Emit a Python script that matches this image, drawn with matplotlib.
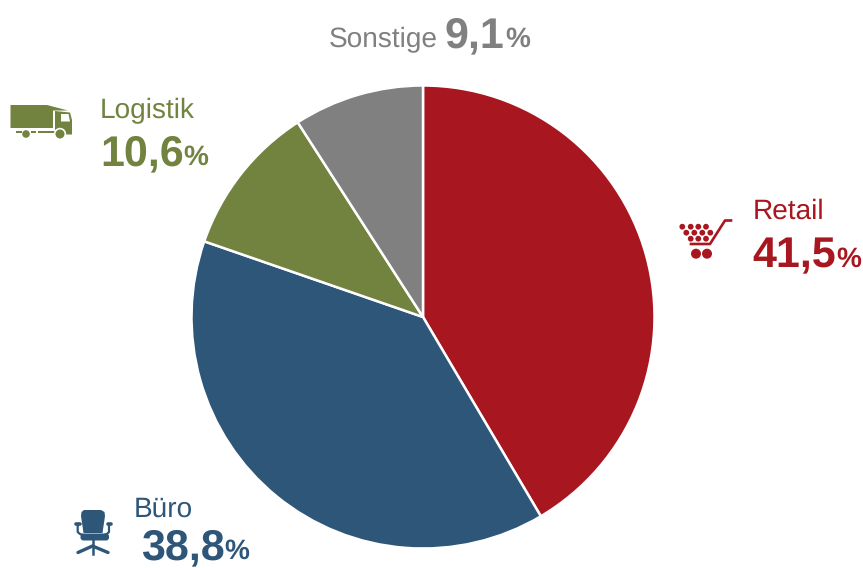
"""Pie chart of space by usage type, with icons next to the labels."""

import matplotlib.pyplot as plt
from matplotlib.patches import Circle, FancyBboxPatch, Polygon, Rectangle

WIDTH = 863
HEIGHT = 568

categories = ["Retail", "Büro", "Logistik", "Sonstige"]
shares = [41.5, 38.8, 10.6, 9.1]
colors = ["#A8171F", "#2E5678", "#728340", "#808080"]

plt.rcParams["font.family"] = ["Liberation Sans", "DejaVu Sans"]
plt.rcParams["text.hinting"] = "no_hinting"
plt.rcParams["text.hinting_factor"] = 1


def _label(ax, x_name, y_name, x_val, y_val, x_pct, name, share, color):
    ax.text(x_name, y_name, name, color=color, fontsize=20, va="baseline")
    value = f"{share:.1f}".replace(".", ",")
    ax.text(x_val, y_val, value, color=color, fontsize=31, weight="bold", va="baseline")
    ax.text(x_pct, y_val, "%", color=color, fontsize=20, weight="bold", va="baseline")


def _truck(ax, color):
    ax.add_patch(Polygon([(10.5, 105), (47, 105), (68, 110.5), (53, 110.5), (53, 128), (10.5, 128)], fc=color))
    ax.add_patch(Polygon([(55, 111), (70, 112.5), (72, 120), (72, 134.5), (55, 134.5)], fc=color))
    ax.add_patch(Polygon([(61, 114), (68.5, 114), (70, 121.5), (61, 121.5)], fc="white"))
    for x0, x1 in [(15.5, 21.5), (31, 35.5), (37.5, 55)]:
        ax.add_patch(Rectangle((x0, 130.5), x1 - x0, 2.5, fc=color))
    ax.add_patch(Circle((26, 134), 3.8, fc=color))
    ax.add_patch(Circle((60, 134), 6.2, fc="white"))
    ax.add_patch(Circle((60, 134), 4.5, fc=color))


def _cart(ax, color):
    rows = [
        (226.7, [682.3, 690.7, 698.3, 706]),
        (232.7, [686.3, 694.3, 702.3, 710.3]),
        (238.7, [690.7, 698.3, 706]),
    ]
    for y, xs in rows:
        for x in xs:
            ax.add_patch(Circle((x, y), 2.9, fc=color))
    ax.plot([731, 725, 710, 691], [220.5, 220.5, 244, 244], color=color, lw=1.9)
    ax.add_patch(Circle((696, 253.7), 5, fc=color))
    ax.add_patch(Circle((707, 253.7), 5, fc=color))


def _chair(ax, color):
    ax.add_patch(
        Polygon(
            [(84, 510), (101, 510), (104.5, 512), (105, 516), (102.5, 533),
             (83.5, 533), (81, 516), (81.5, 512)],
            fc=color,
        )
    )
    ax.add_patch(
        FancyBboxPatch((82, 535), 25.5, 4, boxstyle="round,pad=1.5,rounding_size=3", fc=color, ec="none")
    )
    style = dict(color=color, lw=1.6, solid_capstyle="round")
    ax.plot([77.7, 77.7, 80, 83], [524, 532, 534, 535], **style)
    ax.plot([109, 109, 107, 104], [524, 532, 534, 535], **style)
    ax.plot([76, 79.5], [524, 524], color=color, lw=2.6, solid_capstyle="round")
    ax.plot([107.5, 111], [524, 524], color=color, lw=2.6, solid_capstyle="round")
    ax.plot([92.5, 92.5], [540, 554], color=color, lw=1.8)
    ax.plot([78, 92.5, 108], [552.5, 546, 552.5], color=color, lw=2.4, solid_capstyle="round")


fig = plt.figure(figsize=(WIDTH / 100, HEIGHT / 100), dpi=100)

ax_pie = fig.add_axes([0, 0, 1, 1])
ax_pie.pie(
    shares,
    colors=colors,
    startangle=90,
    counterclock=False,
    center=(423, HEIGHT - 317),
    radius=231.5,
    wedgeprops=dict(edgecolor="white", linewidth=1.8),
)
ax_pie.set_xlim(0, WIDTH)
ax_pie.set_ylim(0, HEIGHT)
ax_pie.axis("off")

# Labels and icons are placed in pixel coordinates, y pointing down
ax = fig.add_axes([0, 0, 1, 1])
ax.set_xlim(0, WIDTH)
ax.set_ylim(HEIGHT, 0)
ax.axis("off")
ax.patch.set_alpha(0)

_label(ax, 753, 219, 752, 267, 836, categories[0], shares[0], colors[0])
_label(ax, 134, 517, 141, 559, 224, categories[1], shares[1], colors[1])
_label(ax, 100, 118, 100, 165, 183, categories[2], shares[2], colors[2])
_label(ax, 329, 47, 445, 47, 505, categories[3], shares[3], colors[3])

_truck(ax, colors[2])
_cart(ax, colors[0])
_chair(ax, colors[1])

for patch in ax.patches:
    patch.set_linewidth(0)

fig.savefig("out.png", dpi=100)
plt.close(fig)
